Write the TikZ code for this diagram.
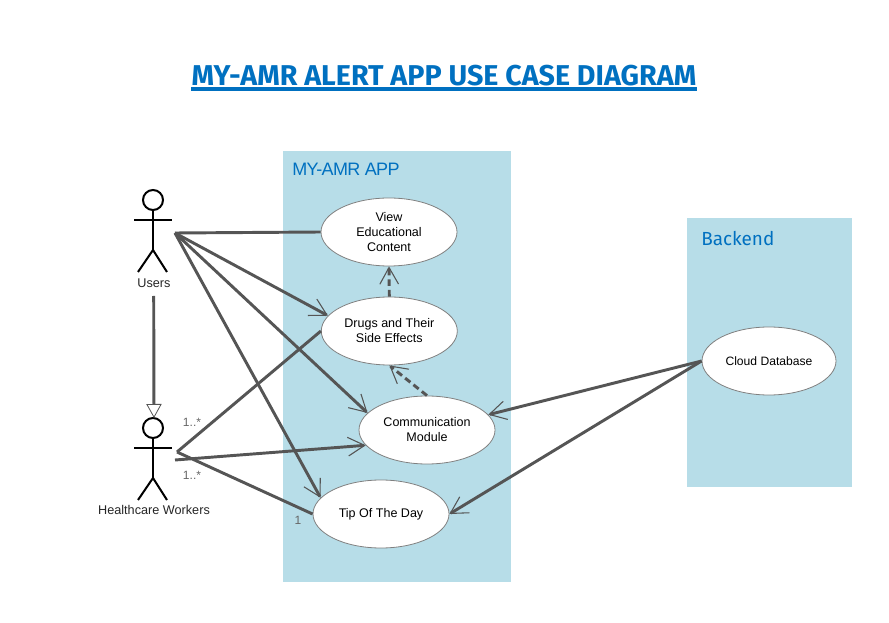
\documentclass[tikz,border=0pt]{standalone}
\usepackage{fontspec}
\setmainfont{Liberation Sans}
\newfontfamily\titlefont{Fira Sans}
\newfontfamily\appfont[LetterSpace=-3.5]{Liberation Sans}
\usetikzlibrary{arrows.meta,shapes.geometric}
\definecolor{panelblue}{HTML}{B7DDE8}
\definecolor{titleblue}{HTML}{0070C0}
\definecolor{linegrey}{HTML}{555555}
\tikzset{
    panel/.style={fill=panelblue, anchor=north west, inner sep=0pt},
    usecase/.style={ellipse, draw=gray, fill=white, line width=0.6pt, inner sep=0pt, minimum width=102pt, minimum height=51pt, align=center, font=\fontsize{9.4}{11.25}\selectfont},
    assoc/.style={draw=linegrey, line width=2.2pt},
    openhead/.style={assoc, -{Straight Barb[length=12.5pt,width=14pt,line width=0.8pt]}},
    dashhead/.style={openhead, dash pattern=on 5pt off 3pt},
    genhead/.style={assoc, -{Triangle[open,length=10.5pt,width=11.5pt,line width=0.6pt,fill=white]}},
    actorlabel/.style={font=\fontsize{9.5}{11}\selectfont, text=black!85},
    multlabel/.style={font=\fontsize{9}{11}\selectfont, text=black!60},
    actor/.pic={
        \draw[black, line width=1.5pt] (0,-17) circle (10);
        \draw[black, line width=1.5pt] (0,-7) -- (0,33);
        \draw[black, line width=1.5pt] (-19,3) -- (19,3);
        \draw[black, line width=1.5pt] (-15,55) -- (0,33) -- (14,55);
    }
}
\begin{document}
\begin{tikzpicture}[x=0.75pt, y=-0.75pt]
    \useasboundingbox (0,0) rectangle (889,623);
    % panels
    \node[panel, minimum width=171pt, minimum height=323.25pt] (apppanel) at (283,151) {};
    \node[panel, minimum width=123.75pt, minimum height=201.75pt] (backpanel) at (687,218) {};
    % title
    \node[text=titleblue, font=\titlefont\bfseries\fontsize{21.5}{25}\selectfont, inner sep=0pt] (title) at (444,76) {MY-AMR ALERT APP USE CASE DIAGRAM};
    \coordinate (titleleft) at (191,89);
    \coordinate (titleright) at (697,89);
    \draw[titleblue, line width=2.6pt] (titleleft) -- (titleright);
    \node[text=titleblue, font=\appfont\fontsize{13.5}{16}\selectfont, anchor=west, inner sep=0pt] (applabel) at (292,169) {MY-AMR APP};
    \node[text=titleblue, font=\titlefont\fontsize{14.2}{16}\selectfont, anchor=west, inner sep=0pt] (backlabel) at (701,239) {Backend};
    % actors
    \pic at (153,217) {actor};
    \pic at (153,445) {actor};
    \node[actorlabel] (users) at (154,283) {Users};
    \node[actorlabel] (health) at (154,510) {Healthcare Workers};
    \coordinate (usersend) at (175,233);
    \coordinate (healthup) at (177,452);
    \coordinate (healthlow) at (175,460);
    \coordinate (gentop) at (153.7,296);
    \coordinate (genbot) at (154,418);
    % use cases
    \node[usecase] (view) at (389,232) {View\\Educational\\ Content};
    \node[usecase] (drugs) at (389.3,331) {Drugs and Their\\Side Effects};
    \node[usecase] (comm) at (427,430) {Communication\\Module};
    \node[usecase] (tip) at (381,514) {Tip Of The Day};
    \node[usecase, minimum width=100.5pt, font=\fontsize{9.1}{11}\selectfont] (cloud) at (769,361) {Cloud Database};
    % connectors
    \draw[genhead] (gentop) -- (genbot);
    \draw[assoc] (usersend) -- (view.west);
    \draw[openhead] (usersend) -- (drugs.166);
    \draw[openhead] (usersend) -- (comm.164);
    \draw[openhead] (usersend) -- (tip.165);
    \draw[assoc] (healthup) -- (drugs.west);
    \draw[openhead] (healthlow) -- (comm.194);
    \draw[assoc] (healthup) -- (tip.west);
    \draw[dashhead] (drugs.north) -- (view.south);
    \draw[dashhead] (comm.north) -- (drugs.south);
    \draw[openhead] (cloud.west) -- (comm.14);
    \draw[openhead] (cloud.west) -- (tip.east);
    % multiplicities
    \node[multlabel] (multa) at (192,422) {1..*};
    \node[multlabel] (multb) at (192,475) {1..*};
    \node[multlabel] (multc) at (298,520) {1};
\end{tikzpicture}
\end{document}
